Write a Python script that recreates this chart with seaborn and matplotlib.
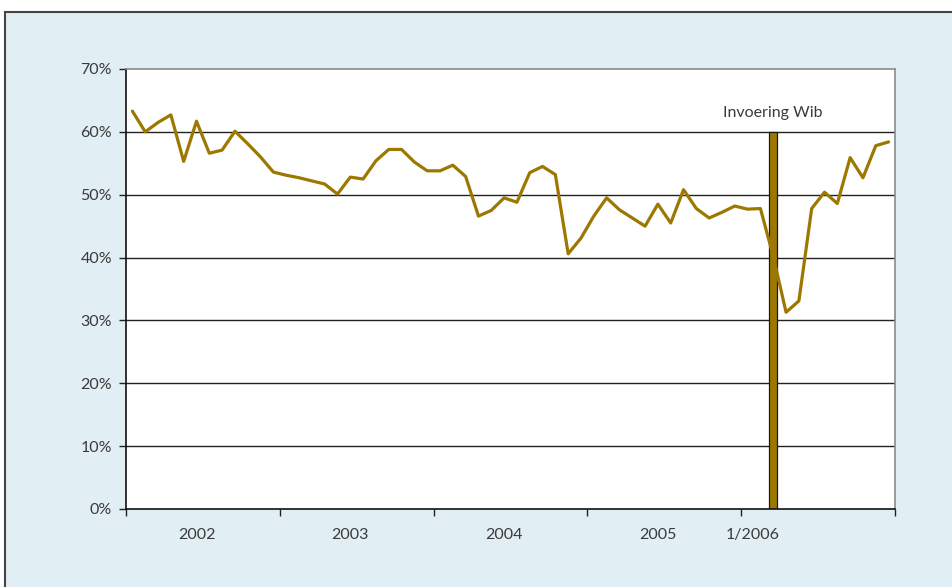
import matplotlib
matplotlib.use("Agg")
import matplotlib.pyplot as plt
import numpy as np
import pandas as pd
import seaborn as sns
from matplotlib.patches import Rectangle
from matplotlib.ticker import FixedLocator, FuncFormatter

# Monthly share (%), Jan 2002 .. Dec 2006
years = [2002, 2003, 2004, 2005, 2006]
months = [f"{m}/{y}" for y in years for m in range(1, 13)]
share = [
    63.3, 60.0, 61.5, 62.7, 55.3, 61.7, 56.6, 57.1, 60.1, 58.1, 56.0, 53.6,
    53.1, 52.7, 52.2, 51.7, 50.1, 52.8, 52.5, 55.4, 57.2, 57.2, 55.2, 53.8,
    53.8, 54.7, 52.9, 46.6, 47.5, 49.5, 48.8, 53.5, 54.5, 53.2, 40.6, 43.1,
    46.6, 49.5, 47.6, 46.3, 45.0, 48.5, 45.5, 50.8, 47.8, 46.3, 47.2, 48.2,
    47.7, 47.8, 40.2, 31.3, 33.1, 47.8, 50.4, 48.6, 55.9, 52.7, 57.8, 58.4,
]
tick_labels = ["2002", "2003", "2004", "2005", "1/2006"]
tick_months = ["6/2002", "6/2003", "6/2004", "6/2005", "1/2006"]
wib_month = "3/2006"
wib_value = 60
wib_label = "Invoering Wib"

LINE = "#9c7800"
BG = "#e1eef3"
TXT = "#3a3a3a"

sns.set_style("white")
plt.rcParams["font.family"] = ["Lato", "DejaVu Sans"]

df = pd.DataFrame({"month": months, "share": share})
df["pos"] = np.arange(len(df))

fig = plt.figure(figsize=(9.53, 5.87), dpi=100)
fig.patch.set_facecolor("white")
# panel background: border only visible at top and left
fig.patches.append(Rectangle((5 / 953, -0.1), 1.2, 1.1 - 12 / 587, transform=fig.transFigure,
                             facecolor=BG, edgecolor="#444444", linewidth=1.5, zorder=-10))
ax = fig.add_axes([126 / 953, 78 / 587, 769 / 953, 440 / 587])
ax.set_facecolor("white")

# horizontal gridlines
for v in range(10, 70, 10):
    ax.axhline(v, color="#222222", linewidth=1.0, zorder=1)

# marker bar for the introduction of the Wib
wib_pos = months.index(wib_month)
ax.bar([wib_pos], [wib_value], width=0.6, color=LINE, edgecolor="#1a1a1a",
       linewidth=0.9, zorder=2)
ax.text(wib_pos, wib_value + 3.0, wib_label, ha="center", va="center",
        fontsize=11.5, color=TXT)

sns.lineplot(data=df, x="pos", y="share", ax=ax, color=LINE, linewidth=2.3, zorder=3)

ax.set_xlim(-0.5, len(months) - 0.5)
ax.set_ylim(0, 70)
ax.set_xlabel("")
ax.set_ylabel("")

ax.yaxis.set_major_locator(FixedLocator(range(0, 71, 10)))
ax.yaxis.set_major_formatter(FuncFormatter(lambda v, _: f"{v:.0f}%"))
ax.tick_params(axis="y", direction="out", length=5, width=1, color="#222222",
               labelsize=11.5, labelcolor=TXT, pad=5, left=True)

ax.set_xticks([months.index(m) + (0.4 if m.startswith("1/") else 0) for m in tick_months])
ax.set_xticklabels(tick_labels)
ax.set_xticks(np.arange(-0.5, len(months), 12), minor=True)
ax.tick_params(axis="x", which="major", length=0, labelsize=11.5, labelcolor=TXT, pad=14)
ax.tick_params(axis="x", which="minor", direction="out", length=5, width=1,
               color="#222222", bottom=True)

for side in ["left", "bottom"]:
    ax.spines[side].set_color("#111111")
    ax.spines[side].set_linewidth(1.2)
for side in ["top", "right"]:
    ax.spines[side].set_color("#8a8a8a")
    ax.spines[side].set_linewidth(1.2)

fig.savefig("out.png", dpi=100)
